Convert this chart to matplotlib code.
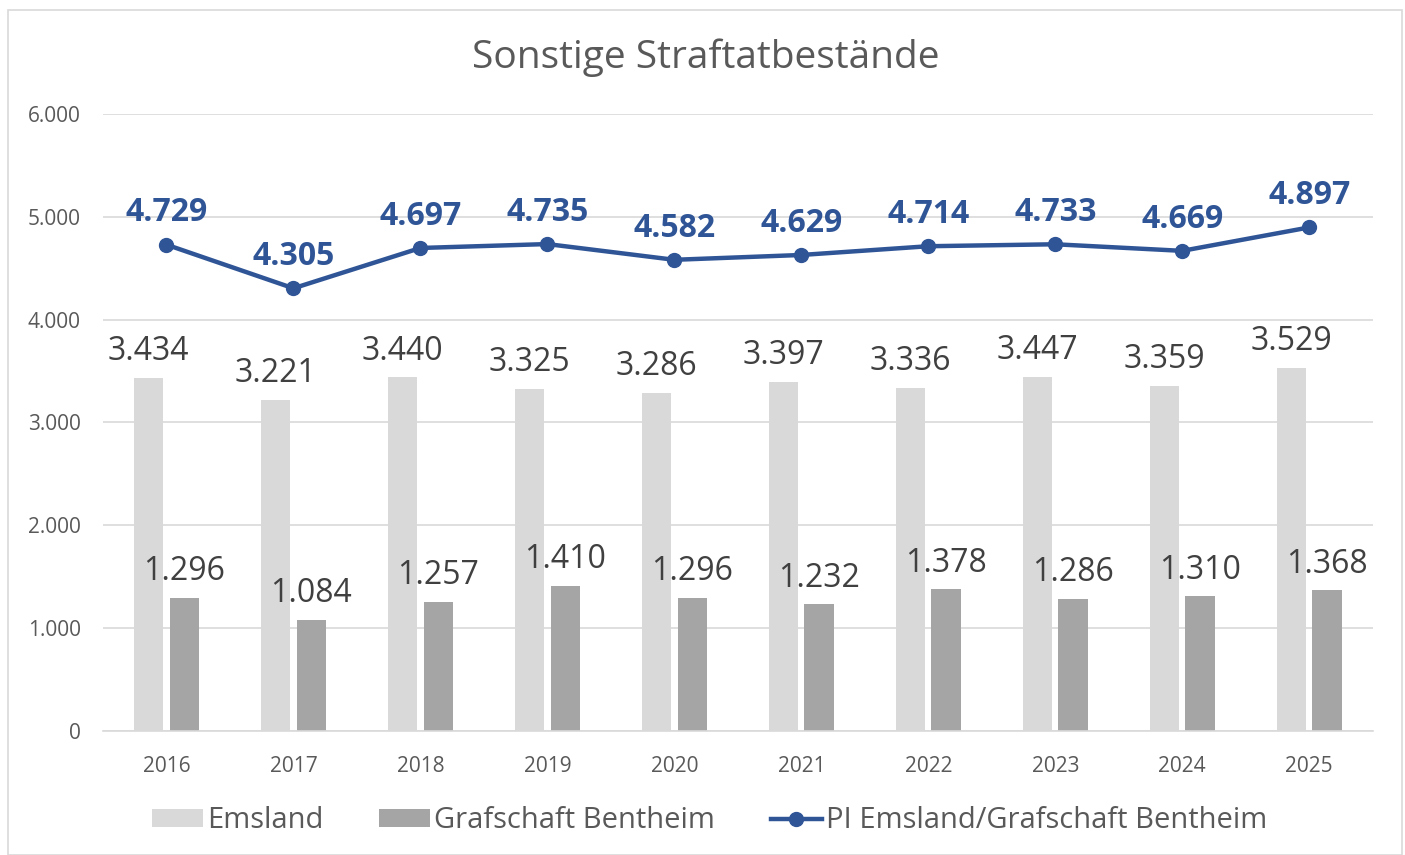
import numpy as np
import matplotlib.pyplot as plt
from matplotlib.patches import Rectangle

plt.rcParams['font.family'] = ['Open Sans', 'DejaVu Sans']

years = ['2016', '2017', '2018', '2019', '2020', '2021', '2022', '2023', '2024', '2025']
emsland = [3434, 3221, 3440, 3325, 3286, 3397, 3336, 3447, 3359, 3529]
bentheim = [1296, 1084, 1257, 1410, 1296, 1232, 1378, 1286, 1310, 1368]
pi_total = [4729, 4305, 4697, 4735, 4582, 4629, 4714, 4733, 4669, 4897]

def de(v):
    return f'{v:,}'.replace(',', '.')

fig = plt.figure(figsize=(14.05, 8.55), dpi=100)
ax = fig.add_axes([0.0733, 0.145, 0.9037, 0.7217])

fig.patches.append(Rectangle((0.006, 0.0), 0.992, 0.988, transform=fig.transFigure,
                             fill=False, edgecolor='#D9D9D9', linewidth=1.2))

x = np.arange(len(years))
w = 0.23
b1 = ax.bar(x - 0.14, emsland, w, color='#D9D9D9', label='Emsland', zorder=2)
b2 = ax.bar(x + 0.14, bentheim, w, color='#A5A5A5', label='Grafschaft Bentheim', zorder=2)
ln, = ax.plot(x, pi_total, color='#2F5597', lw=3.2, marker='o', ms=10,
              label='PI Emsland/Grafschaft Bentheim', zorder=3)

for xi, v in zip(x, emsland):
    ax.annotate(de(v), (xi - 0.14, v), xytext=(0, 7), textcoords='offset points',
                ha='center', va='bottom', fontsize=23, color='#404040')
for xi, v in zip(x, bentheim):
    ax.annotate(de(v), (xi + 0.14, v), xytext=(0, 7), textcoords='offset points',
                ha='center', va='bottom', fontsize=23, color='#404040')
for xi, v in zip(x, pi_total):
    ax.annotate(de(v), (xi, v), xytext=(0, 11), textcoords='offset points',
                ha='center', va='bottom', fontsize=23, fontweight='bold', color='#2F5597')

ax.set_xlim(-0.5, len(years) - 0.5)
ax.set_ylim(0, 6000)
ax.set_yticks(range(0, 6001, 1000))
ax.set_yticklabels([de(t) for t in range(0, 6001, 1000)])
ax.set_xticks(x)
ax.set_xticklabels(years)
ax.tick_params(length=0, labelsize=15, colors='#595959')
ax.tick_params(axis='x', pad=18)
ax.tick_params(axis='y', pad=16)
ax.grid(axis='y', color='#D9D9D9', lw=1.2, zorder=0)
for s in ['top', 'right', 'left']:
    ax.spines[s].set_visible(False)
ax.spines['bottom'].set_color('#D9D9D9')
ax.spines['bottom'].set_linewidth(1.2)

fig.text(0.502, 0.933, 'Sonstige Straftatbestände', ha='center', va='center',
         fontsize=28, color='#595959')

fig.legend(handles=[b1, b2, ln], loc='center', bbox_to_anchor=(0.505, 0.040), ncol=3,
           frameon=False, fontsize=21, labelcolor='#595959', handlelength=1.75,
           handleheight=0.6, handletextpad=0.15, columnspacing=1.9)

fig.savefig('out.png', dpi=100)
